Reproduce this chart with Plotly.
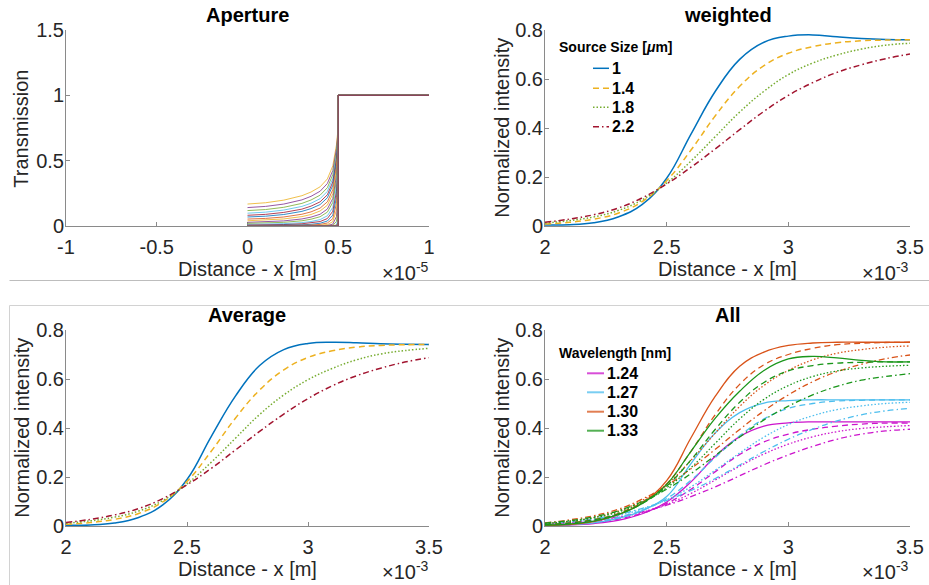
import plotly.graph_objects as go

W, H = 929, 585
FONT = "Liberation Sans, Arial, sans-serif"
TXT = "#262626"
AXC = "#8a8a8a"

# ---------------- Aperture: transmission profiles ----------------
ap_x = [0, 0.1e-5, 0.2e-5, 0.3e-5, 0.35e-5, 0.4e-5, 0.44e-5, 0.47e-5, 0.49e-5, 0.5e-5, 0.5e-5, 1.0e-5]
ap_profiles = [
    [0.168, 0.178, 0.198, 0.232, 0.260, 0.300, 0.360, 0.460, 0.620, 0.760],
    [0.141, 0.150, 0.168, 0.200, 0.227, 0.266, 0.325, 0.425, 0.591, 0.740],
    [0.118, 0.126, 0.143, 0.173, 0.199, 0.236, 0.293, 0.394, 0.563, 0.720],
    [0.098, 0.106, 0.122, 0.150, 0.174, 0.209, 0.265, 0.364, 0.537, 0.700],
    [0.082, 0.089, 0.104, 0.129, 0.152, 0.185, 0.239, 0.337, 0.512, 0.680],
    [0.069, 0.075, 0.088, 0.112, 0.133, 0.164, 0.216, 0.312, 0.488, 0.660],
    [0.053, 0.058, 0.069, 0.090, 0.108, 0.137, 0.185, 0.278, 0.454, 0.636],
    [0.040, 0.045, 0.054, 0.072, 0.088, 0.115, 0.159, 0.247, 0.423, 0.610],
    [0.028, 0.032, 0.039, 0.054, 0.068, 0.090, 0.130, 0.211, 0.384, 0.578],
    [0.020, 0.022, 0.028, 0.040, 0.052, 0.071, 0.106, 0.181, 0.349, 0.547],
    [0.012, 0.013, 0.018, 0.026, 0.034, 0.049, 0.078, 0.143, 0.303, 0.504],
    [0.007, 0.008, 0.011, 0.017, 0.023, 0.034, 0.057, 0.113, 0.262, 0.464],
    [0.003, 0.004, 0.006, 0.009, 0.013, 0.021, 0.038, 0.083, 0.217, 0.416],
    [0.001, 0.002, 0.003, 0.005, 0.007, 0.012, 0.023, 0.056, 0.171, 0.363],
    [0.000, 0.001, 0.001, 0.002, 0.003, 0.005, 0.011, 0.033, 0.122, 0.300],
    [0.000, 0.000, 0.000, 0.000, 0.001, 0.001, 0.004, 0.014, 0.072, 0.220],
    [0.000, 0.000, 0.000, 0.000, 0.000, 0.000, 0.001, 0.004, 0.035, 0.147],
    [0.000, 0.000, 0.000, 0.000, 0.000, 0.000, 0.000, 0.000, 0.008, 0.065],
    [0.000, 0.000, 0.000, 0.000, 0.000, 0.000, 0.000, 0.000, 0.002, 0.030],
    [0.000, 0.000, 0.000, 0.000, 0.000, 0.000, 0.000, 0.000, 0.000, 0.020],
    [0.000, 0.000, 0.000, 0.000, 0.000, 0.000, 0.000, 0.000, 0.000, 0.010],
    [0.000, 0.000, 0.000, 0.000, 0.000, 0.000, 0.000, 0.000, 0.000, 0.005],
    [0.000, 0.000, 0.000, 0.000, 0.000, 0.000, 0.000, 0.000, 0.000, 0.002],
    [0.000, 0.000, 0.000, 0.000, 0.000, 0.000, 0.000, 0.000, 0.000, 0.000],
    [0.000, 0.000, 0.000, 0.000, 0.000, 0.000, 0.000, 0.000, 0.000, 0.000],
    [0.000, 0.000, 0.000, 0.000, 0.000, 0.000, 0.000, 0.000, 0.000, 0.000],
]
ap_open = [1.0, 1.0]          # fully open part of the aperture
ap_xticks = [-1e-5, -0.5e-5, 0, 0.5e-5, 1e-5]
ap_xtext = ["-1", "-0.5", "0", "0.5", "1"]
ap_yticks = [0, 0.5, 1, 1.5]
ap_ytext = ["0", "0.5", "1", "1.5"]

# ---------------- Edge profiles (x in metres) ----------------
dist_x = [2.0e-3, 2.1e-3, 2.2e-3, 2.3e-3, 2.4e-3, 2.5e-3, 2.6e-3, 2.7e-3,
          2.8e-3, 2.9e-3, 3.0e-3, 3.1e-3, 3.2e-3, 3.3e-3, 3.4e-3, 3.5e-3]
dist_xticks = [2.0e-3, 2.5e-3, 3.0e-3, 3.5e-3]
dist_xtext = ["2", "2.5", "3", "3.5"]
int_yticks = [0, 0.2, 0.4, 0.6, 0.8]
int_ytext = ["0", "0.2", "0.4", "0.6", "0.8"]

source_sizes = ["1", "1.4", "1.8", "2.2"]

# weighted
w_1 = [0.004, 0.005, 0.013, 0.037, 0.088, 0.195, 0.375, 0.55, 0.68, 0.75, 0.775, 0.78, 0.772, 0.765, 0.761, 0.76]
w_14 = [0.008, 0.015, 0.028, 0.052, 0.10, 0.185, 0.31, 0.45, 0.57, 0.655, 0.705, 0.732, 0.748, 0.756, 0.759, 0.76]
w_18 = [0.012, 0.022, 0.037, 0.063, 0.107, 0.175, 0.265, 0.365, 0.465, 0.55, 0.618, 0.665, 0.698, 0.722, 0.738, 0.746]
w_22 = [0.015, 0.028, 0.046, 0.073, 0.115, 0.172, 0.24, 0.315, 0.393, 0.468, 0.533, 0.585, 0.627, 0.658, 0.683, 0.702]

# average
a_1 = [0.003, 0.004, 0.012, 0.035, 0.086, 0.19, 0.365, 0.53, 0.655, 0.72, 0.745, 0.75, 0.748, 0.744, 0.742, 0.741]
a_14 = [0.007, 0.014, 0.027, 0.051, 0.098, 0.182, 0.305, 0.44, 0.555, 0.637, 0.688, 0.715, 0.73, 0.737, 0.74, 0.741]
a_18 = [0.011, 0.021, 0.036, 0.061, 0.104, 0.172, 0.26, 0.358, 0.455, 0.535, 0.597, 0.643, 0.678, 0.702, 0.716, 0.725]
a_22 = [0.014, 0.027, 0.045, 0.071, 0.112, 0.168, 0.235, 0.31, 0.386, 0.457, 0.52, 0.572, 0.613, 0.644, 0.669, 0.687]

# all wavelengths x all source sizes (rows: 1, 1.4, 1.8, 2.2 um)
wavelengths = ["1.24", "1.27", "1.30", "1.33"]
all_124 = [
    [0.002, 0.004, 0.010, 0.023, 0.050, 0.098, 0.18, 0.285, 0.365, 0.408, 0.421, 0.425, 0.425, 0.425, 0.425, 0.425],
    [0.004, 0.007, 0.014, 0.028, 0.052, 0.092, 0.15, 0.222, 0.292, 0.343, 0.375, 0.395, 0.408, 0.416, 0.42, 0.42],
    [0.006, 0.011, 0.020, 0.034, 0.056, 0.088, 0.133, 0.188, 0.244, 0.294, 0.334, 0.364, 0.385, 0.398, 0.405, 0.41],
    [0.008, 0.014, 0.023, 0.037, 0.058, 0.085, 0.12, 0.16, 0.205, 0.25, 0.29, 0.325, 0.354, 0.375, 0.388, 0.395],
]
all_127 = [
    [0.003, 0.005, 0.013, 0.031, 0.063, 0.12, 0.255, 0.38, 0.463, 0.502, 0.512, 0.515, 0.515, 0.515, 0.515, 0.515],
    [0.005, 0.009, 0.018, 0.035, 0.064, 0.112, 0.187, 0.28, 0.368, 0.437, 0.48, 0.50, 0.51, 0.513, 0.515, 0.515],
    [0.008, 0.015, 0.026, 0.043, 0.069, 0.107, 0.16, 0.228, 0.298, 0.363, 0.414, 0.45, 0.475, 0.49, 0.50, 0.505],
    [0.010, 0.018, 0.030, 0.047, 0.072, 0.105, 0.145, 0.194, 0.249, 0.304, 0.354, 0.395, 0.429, 0.454, 0.47, 0.48],
]
all_130 = [
    [0.003, 0.006, 0.018, 0.046, 0.095, 0.185, 0.36, 0.53, 0.652, 0.71, 0.737, 0.747, 0.75, 0.75, 0.75, 0.75],
    [0.006, 0.013, 0.026, 0.051, 0.097, 0.172, 0.305, 0.455, 0.578, 0.658, 0.70, 0.725, 0.74, 0.746, 0.749, 0.75],
    [0.010, 0.020, 0.035, 0.061, 0.105, 0.17, 0.268, 0.38, 0.488, 0.574, 0.635, 0.678, 0.705, 0.72, 0.73, 0.735],
    [0.013, 0.025, 0.042, 0.068, 0.110, 0.165, 0.234, 0.313, 0.394, 0.47, 0.535, 0.589, 0.63, 0.66, 0.683, 0.698],
]
all_133 = [
    [0.004, 0.008, 0.020, 0.046, 0.092, 0.17, 0.305, 0.44, 0.55, 0.635, 0.682, 0.692, 0.686, 0.676, 0.67, 0.67],
    [0.006, 0.012, 0.025, 0.049, 0.092, 0.163, 0.27, 0.395, 0.505, 0.586, 0.633, 0.655, 0.665, 0.668, 0.67, 0.67],
    [0.010, 0.019, 0.033, 0.057, 0.097, 0.156, 0.238, 0.338, 0.437, 0.517, 0.573, 0.61, 0.633, 0.645, 0.652, 0.656],
    [0.012, 0.022, 0.037, 0.062, 0.100, 0.15, 0.214, 0.288, 0.363, 0.433, 0.489, 0.535, 0.57, 0.595, 0.61, 0.622],
]

# ---------------- styles ----------------
ml_colors = ["#EDB120", "#7E2F8E", "#77AC30", "#4DBEEE", "#A2142F", "#0072BD", "#D95319"]
size_colors = ["#0072BD", "#EDB120", "#77AC30", "#A2142F"]
size_dash = ["solid", "6px,4px", "1.5px,2px", "6px,3px,1.5px,3px"]
wl_colors = ["#cc14cc", "#4DBEEE", "#D95319", "#1a961a"]
SMOOTH = 1.2


def px(x):
    return x / W


def py(y):
    return 1 - y / H


fig = go.Figure()

# Aperture panel
for i, prof in enumerate(ap_profiles):
    fig.add_trace(go.Scatter(
        x=ap_x, y=prof + ap_open, mode="lines", xaxis="x", yaxis="y", opacity=0.8,
        line=dict(color=ml_colors[i % len(ml_colors)], width=1), showlegend=False,
        hoverinfo="skip"))

# weighted and average panels
for series, ax in (([w_1, w_14, w_18, w_22], "2"), ([a_1, a_14, a_18, a_22], "3")):
    for k, vals in enumerate(series):
        fig.add_trace(go.Scatter(
            x=dist_x, y=vals, mode="lines", xaxis="x" + ax, yaxis="y" + ax,
            line=dict(color=size_colors[k], width=1.5, dash=size_dash[k], shape="spline", smoothing=SMOOTH),
            showlegend=False, name=source_sizes[k]))

# all panel
for c, group in enumerate([all_124, all_127, all_130, all_133]):
    for k, vals in enumerate(group):
        fig.add_trace(go.Scatter(
            x=dist_x, y=vals, mode="lines", xaxis="x4", yaxis="y4",
            line=dict(color=wl_colors[c], width=1.3, dash=size_dash[k], shape="spline", smoothing=SMOOTH),
            showlegend=False, name=wavelengths[c]))

# ---------------- axes ----------------
left_dom = [px(66), px(429)]
right_dom = [px(545), px(910)]
top_dom = [py(226), py(30)]
bot_dom = [py(526), py(330)]


def axis(domain, anchor, rng, tickvals, ticktext, standoff):
    return dict(domain=domain, anchor=anchor, range=rng, tickvals=tickvals, ticktext=ticktext,
                showline=True, linecolor=AXC, linewidth=1, ticks="inside", ticklen=4,
                tickcolor=AXC, tickwidth=1, showgrid=False, zeroline=False, mirror=False,
                tickfont=dict(family=FONT, size=20, color=TXT), ticklabelstandoff=standoff,
                layer="below traces", fixedrange=True, automargin=False)


xr = [2.0e-3, 3.5e-3]
XS, YS = 3, -3
fig.update_layout(
    xaxis=axis(left_dom, "y", [-1e-5, 1e-5], ap_xticks, ap_xtext, XS),
    yaxis=axis(top_dom, "x", [0, 1.5], ap_yticks, ap_ytext, YS),
    xaxis2=axis(right_dom, "y2", xr, dist_xticks, dist_xtext, XS),
    yaxis2=axis(top_dom, "x2", [0, 0.8], int_yticks, int_ytext, YS),
    xaxis3=axis(left_dom, "y3", xr, dist_xticks, dist_xtext, XS),
    yaxis3=axis(bot_dom, "x3", [0, 0.8], int_yticks, int_ytext, YS),
    xaxis4=axis(right_dom, "y4", xr, dist_xticks, dist_xtext, XS),
    yaxis4=axis(bot_dom, "x4", [0, 0.8], int_yticks, int_ytext, YS),
)

# ---------------- text ----------------
ann = []


def text(x, y, s, size=20, color=TXT, xanchor="center", angle=0, bold=False):
    ann.append(dict(x=px(x), y=py(y), xref="paper", yref="paper", text=("<b>%s</b>" % s) if bold else s,
                    showarrow=False, xanchor=xanchor, yanchor="middle", textangle=angle,
                    font=dict(family=FONT, size=size, color=color)))


for cx, cy, t in ((247.5, 15, "Aperture"), (727.5, 15, "weighted"), (247.5, 315, "Average"), (727.5, 315, "All")):
    text(cx, cy, t, color="#000000", bold=True)
for cx, cy in ((247.5, 269), (727.5, 269), (247.5, 569), (727.5, 569)):
    text(cx, cy, "Distance - x [m]")
text(20.7, 129, "Transmission", angle=-90)
for cx, cy in ((501.7, 128), (21.7, 428), (501.7, 428)):
    text(cx, cy, "Normalized intensity", angle=-90)
text(431, 271, "×10<sup>-5</sup>", xanchor="right")
text(911, 271, "×10<sup>-3</sup>", xanchor="right")
text(431, 570, "×10<sup>-3</sup>", xanchor="right")
text(911, 570, "×10<sup>-3</sup>", xanchor="right")

shapes = []

# legend: source size
text(557, 46.7, "Source Size [<i>μ</i>m]", size=14, color="#000000", xanchor="left", bold=True)
for k, (lab, ly) in enumerate(zip(source_sizes, [68.3, 88.3, 107.3, 126.7])):
    shapes.append(dict(type="line", xref="paper", yref="paper", x0=px(593), x1=px(609), y0=py(ly), y1=py(ly),
                       line=dict(color=size_colors[k], width=1.5, dash=size_dash[k])))
    text(610, ly, lab, size=16, color="#000000", xanchor="left", bold=True)

# legend: wavelength
text(556.7, 353.3, "Wavelength [nm]", size=14, color="#000000", xanchor="left", bold=True)
for c, (lab, ly) in enumerate(zip(wavelengths, [373.3, 392.3, 411.7, 430.7])):
    shapes.append(dict(type="line", xref="paper", yref="paper", x0=px(587), x1=px(604), y0=py(ly), y1=py(ly),
                       line=dict(color=wl_colors[c], width=2), opacity=0.75))
    text(605, ly, lab, size=16, color="#000000", xanchor="left", bold=True)

# panel frame lines
shapes.append(dict(type="line", xref="paper", yref="paper", x0=px(9.5), x1=px(929), y0=py(280.5), y1=py(280.5),
                   line=dict(color="#bdbdbd", width=1)))
shapes.append(dict(type="line", xref="paper", yref="paper", x0=px(9.5), x1=px(929), y0=py(305.5), y1=py(305.5),
                   line=dict(color="#d2d2d2", width=1)))
shapes.append(dict(type="line", xref="paper", yref="paper", x0=px(9.5), x1=px(9.5), y0=py(305.5), y1=py(585),
                   line=dict(color="#d2d2d2", width=1)))

fig.update_layout(
    width=W, height=H, margin=dict(l=0, r=0, t=0, b=0, pad=0, autoexpand=False),
    paper_bgcolor="white", plot_bgcolor="white",
    annotations=ann, shapes=shapes, showlegend=False,
    font=dict(family=FONT, color=TXT),
)

fig.write_html("out.html")
